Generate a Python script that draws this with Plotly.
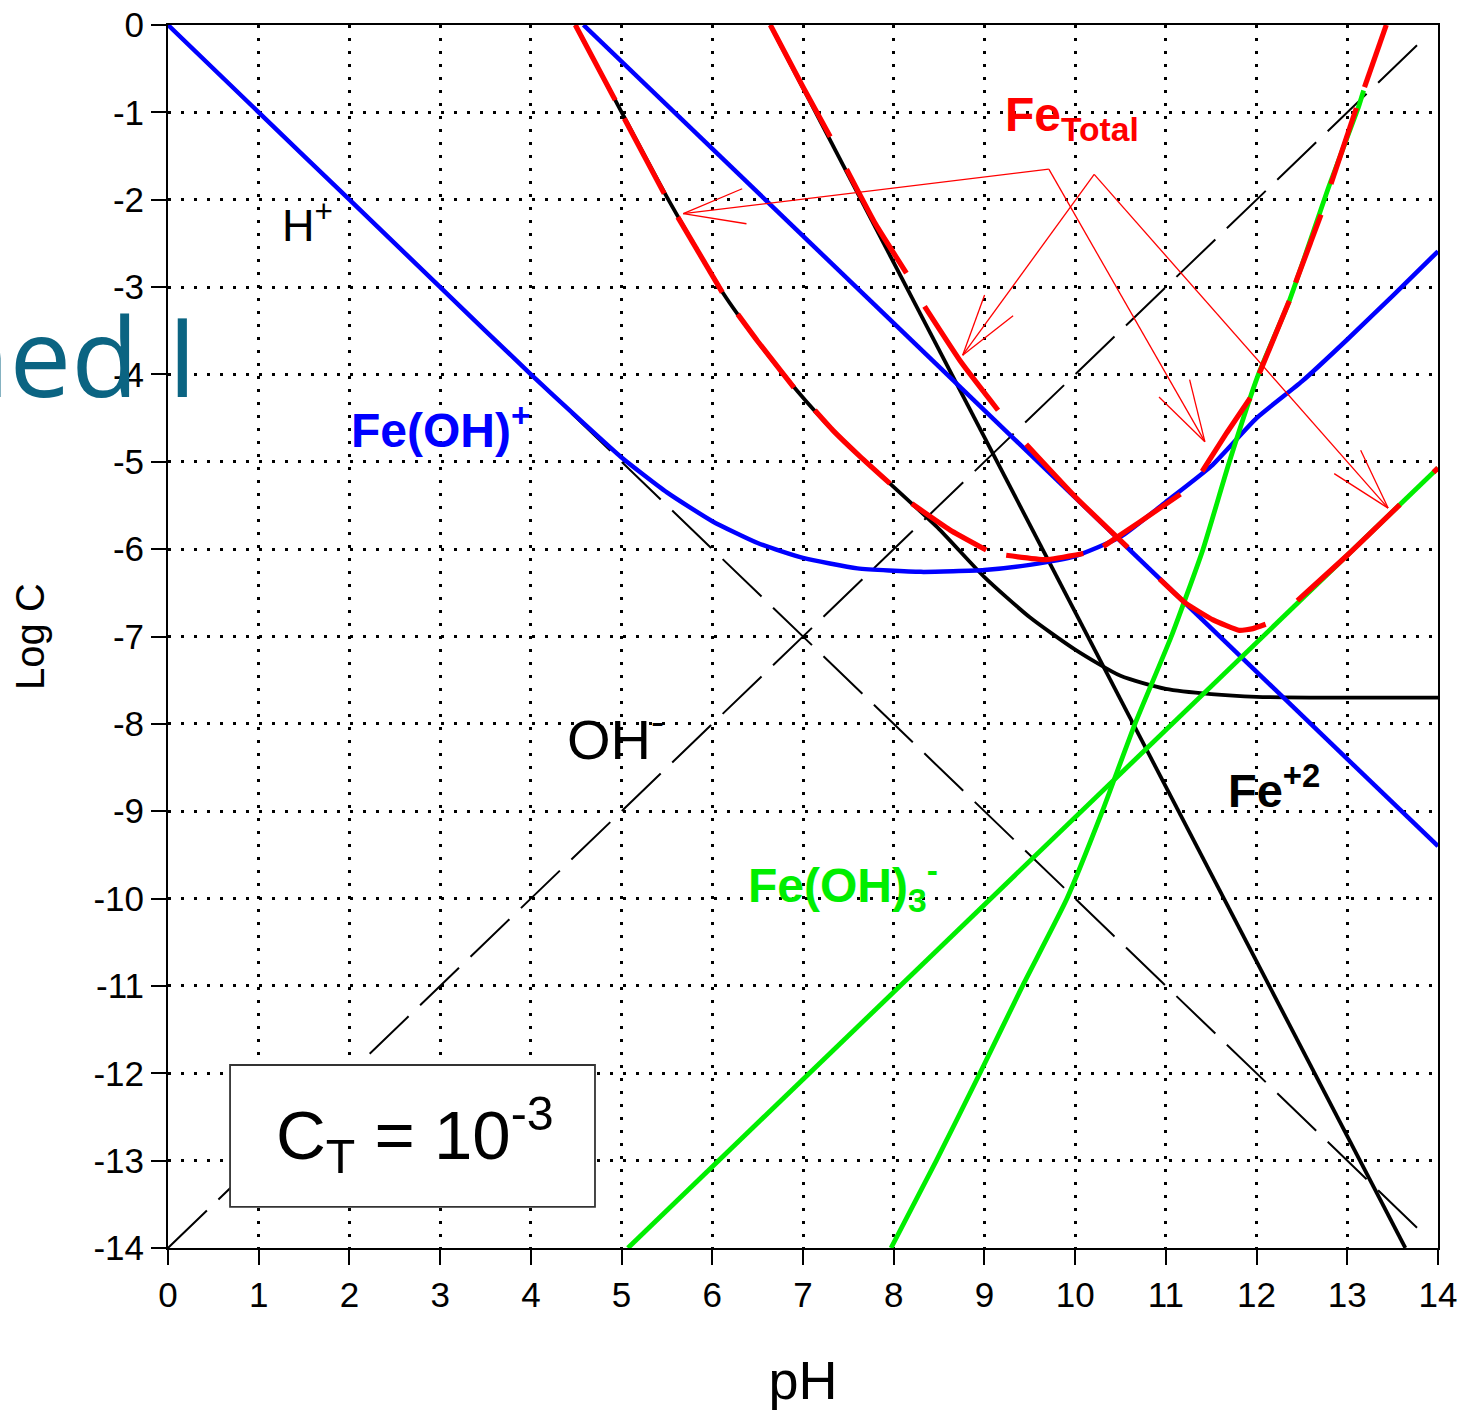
import math
import plotly.graph_objects as go

# ---------------- data ----------------
h_ph = [0, 13.86]
h_logc = [0, -13.86]

oh_ph = [0, 13.86]
oh_logc = [-14, -0.14]

black_curve_ph = [4.49, 4.93, 5.5, 6.12, 6.5, 6.93, 7.33, 7.63, 7.96, 8.5, 9.0, 9.5, 10.0,
                  10.5, 11.0, 11.5, 12.0, 13, 14]
black_curve_logc = [0, -0.86, -1.97, -3.07, -3.62, -4.18, -4.64, -4.94, -5.25, -5.77, -6.32,
                    -6.78, -7.15, -7.45, -7.6, -7.66, -7.69, -7.7, -7.7]

fe2_ph = [6.64, 13.64]
fe2_logc = [0, -14]

blue_curve_ph = [0, 1, 2, 3, 4, 4.5, 5, 5.5, 6, 6.5, 7, 7.6, 8.3, 9, 9.5, 10, 10.5, 11, 11.5,
                 12, 12.5, 13, 13.5, 14]
blue_curve_logc = [0, -1, -2, -3, -4, -4.48, -4.95, -5.35, -5.68, -5.93, -6.1, -6.22, -6.26,
                   -6.24, -6.18, -6.08, -5.86, -5.46, -5.05, -4.5, -4.08, -3.6, -3.1, -2.59]

feoh_line_ph = [4.58, 14]
feoh_line_logc = [0, -9.4]

feoh3_line_ph = [5.07, 14]
feoh3_line_logc = [-14, -5.07]

green_curve_ph = [7.97, 8.47, 8.95, 9.42, 9.91, 10.3, 10.66, 11.06, 11.41, 11.70, 12.02, 12.36,
                  12.8, 13.12, 13.18]
green_curve_logc = [-14, -13, -12, -11, -10, -9, -8, -7, -6, -5, -4, -3.16, -1.84, -0.95, -0.75]

# Fe total (first set), drawn in pieces (None = visible gap)
red1_ph = [4.49, 4.93, None,
           5.03, 5.47, None,
           5.62, 6.11, None,
           6.28, 6.5, 6.90, None,
           7.13, 7.33, 7.63, 7.96, None,
           8.2, 8.62, 9.02, None,
           9.24, 9.68, 10.09, None,
           10.31, 10.71, 11.16, None,
           11.40, 11.67, 11.93, None,
           12.03, 12.36, None,
           12.43, 12.71, None,
           12.82, 13.10, None,
           13.19, 13.43]
red1_logc = [0, -0.86, None,
             -1.07, -1.93, None,
             -2.2, -3.06, None,
             -3.31, -3.62, -4.15, None,
             -4.41, -4.64, -4.94, -5.25, None,
             -5.48, -5.78, -6.01, None,
             -6.07, -6.12, -6.05, None,
             -5.97, -5.69, -5.37, None,
             -5.11, -4.67, -4.27, None,
             -3.99, -3.16, None,
             -2.95, -2.17, None,
             -1.82, -0.95, None,
             -0.71, 0]

# Fe total (second set)
red2_ph = [6.64, 7.0, 7.30, None,
           7.48, 7.8, 8.14, None,
           8.34, 8.75, 9.15, None,
           9.46, 10.0, 10.58, None,
           10.93, 11.22, 11.52, 11.81, 11.96, 12.10, None,
           12.45, 13.0, 13.58, None,
           13.95, 14]
red2_logc = [0, -0.71, -1.28, None,
             -1.65, -2.28, -2.84, None,
             -3.22, -3.87, -4.41, None,
             -4.80, -5.40, -5.98, None,
             -6.34, -6.62, -6.81, -6.93, -6.91, -6.86, None,
             -6.59, -6.07, -5.49, None,
             -5.12, -5.07]

# arrows from the "Fe Total" label: tail and head points (pH, log C)
arrow_tail_ph = [9.71, 10.21, 9.71, 10.21]
arrow_tail_logc = [-1.65, -1.71, -1.65, -1.71]
arrow_head_ph = [5.68, 8.76, 11.43, 13.45]
arrow_head_logc = [-2.16, -3.78, -4.77, -5.53]

x_ticks = list(range(0, 15))
y_ticks = list(range(-14, 1))

# ---------------- figure ----------------
W, H = 1464, 1410
ML, MR, MT, MB = 168, 26, 25, 162
PW, PH_ = W - ML - MR, H - MT - MB
SX, SY = PW / 14.0, PH_ / 14.0

FONT = "Liberation Sans, Arial, Helvetica, sans-serif"

fig = go.Figure()

dash_black = "54px,16px"
fig.add_trace(go.Scatter(x=h_ph, y=h_logc, mode="lines",
                         line=dict(color="black", width=2, dash=dash_black)))
fig.add_trace(go.Scatter(x=oh_ph, y=oh_logc, mode="lines",
                         line=dict(color="black", width=2, dash=dash_black)))
fig.add_trace(go.Scatter(x=black_curve_ph, y=black_curve_logc, mode="lines",
                         line=dict(color="black", width=3.8, shape="spline", smoothing=0.6)))
fig.add_trace(go.Scatter(x=fe2_ph, y=fe2_logc, mode="lines",
                         line=dict(color="black", width=3.8)))
fig.add_trace(go.Scatter(x=blue_curve_ph, y=blue_curve_logc, mode="lines",
                         line=dict(color="#0000ff", width=4.5, shape="spline", smoothing=0.5)))
fig.add_trace(go.Scatter(x=feoh_line_ph, y=feoh_line_logc, mode="lines",
                         line=dict(color="#0000ff", width=4.5)))
fig.add_trace(go.Scatter(x=feoh3_line_ph, y=feoh3_line_logc, mode="lines",
                         line=dict(color="#00ee00", width=4.8)))
fig.add_trace(go.Scatter(x=green_curve_ph, y=green_curve_logc, mode="lines",
                         line=dict(color="#00ee00", width=4.8, shape="spline", smoothing=0.5)))
fig.add_trace(go.Scatter(x=red1_ph, y=red1_logc, mode="lines", connectgaps=False,
                         line=dict(color="#ff0000", width=5.2, shape="spline", smoothing=0.4)))
fig.add_trace(go.Scatter(x=red2_ph, y=red2_logc, mode="lines", connectgaps=False,
                         line=dict(color="#ff0000", width=5.2, shape="spline", smoothing=0.4)))

shapes = []
# arrows with open V heads
wing_len = 64.0
wing_ang = math.radians(16)
for tx, ty, hx, hy in zip(arrow_tail_ph, arrow_tail_logc, arrow_head_ph, arrow_head_logc):
    shapes.append(dict(type="line", xref="x", yref="y", x0=tx, y0=ty, x1=hx, y1=hy,
                       line=dict(color="#ff0000", width=1.3)))
    dx = (tx - hx) * SX
    dy = -(ty - hy) * SY
    n = math.hypot(dx, dy)
    ux, uy = dx / n, dy / n
    for s in (1, -1):
        a = s * wing_ang
        rx = ux * math.cos(a) - uy * math.sin(a)
        ry = ux * math.sin(a) + uy * math.cos(a)
        ex = hx + rx * wing_len / SX
        ey = hy - ry * wing_len / SY
        shapes.append(dict(type="line", xref="x", yref="y", x0=hx, y0=hy, x1=ex, y1=ey,
                           line=dict(color="#ff0000", width=1.3)))

# C_T box
shapes.append(dict(type="rect", xref="x", yref="y", x0=0.684, x1=4.707, y0=-13.53, y1=-11.905,
                   line=dict(color="#333333", width=1.8), fillcolor="white", layer="above"))

annotations = [
    dict(x=1.24, y=-2.26, xref="x", yref="y", xanchor="left", yanchor="middle",
         text="H<sup>+</sup>", showarrow=False,
         font=dict(family=FONT, size=45, color="black")),
    dict(x=2.0, y=-4.6, xref="x", yref="y", xanchor="left", yanchor="middle",
         text="<b>Fe(OH)<sup>+</sup></b>", showarrow=False,
         font=dict(family=FONT, size=48, color="#0000ff")),
    dict(x=4.38, y=-8.13, xref="x", yref="y", xanchor="left", yanchor="middle",
         text="OH<sup>-</sup>", showarrow=False,
         font=dict(family=FONT, size=56, color="black")),
    dict(x=11.66, y=-8.72, xref="x", yref="y", xanchor="left", yanchor="middle",
         text="<b>Fe<sup>+2</sup></b>", showarrow=False,
         font=dict(family=FONT, size=47, color="black")),
    dict(x=6.37, y=-9.85, xref="x", yref="y", xanchor="left", yanchor="middle",
         text="<b>Fe(OH)<sub>3</sub><sup>-</sup></b>", showarrow=False,
         font=dict(family=FONT, size=48, color="#00ee00")),
    dict(x=9.2, y=-1.07, xref="x", yref="y", xanchor="left", yanchor="middle",
         text="<b>Fe<sub>Total</sub></b>", showarrow=False,
         font=dict(family=FONT, size=48, color="#ff0000")),
    dict(x=2.72, y=-12.7, xref="x", yref="y", xanchor="center", yanchor="middle",
         text="C<sub>T</sub> = 10<sup>-3</sup>", showarrow=False,
         font=dict(family=FONT, size=69, color="black")),
    dict(x=(200 - ML) / PW, y=1 - (354 - MT) / PH_, xref="paper", yref="paper",
         xanchor="right", yanchor="middle", text="ned I", showarrow=False,
         font=dict(family="Open Sans, Noto Sans, sans-serif", size=110, color="#0b6482")),
]

axis_common = dict(
    showgrid=True, gridcolor="black", gridwidth=3.2, griddash="3px,10px",
    zeroline=False, showline=True, linecolor="black", linewidth=2, mirror=True,
    ticks="outside", ticklen=15, tickwidth=1.6, tickcolor="black",
    tickfont=dict(family=FONT, size=35, color="black"),
    automargin=False,
)

fig.update_layout(
    width=W, height=H,
    margin=dict(l=ML, r=MR, t=MT, b=MB, autoexpand=False),
    paper_bgcolor="white", plot_bgcolor="white",
    showlegend=False,
    xaxis=dict(range=[0, 14], tickvals=x_ticks, ticktext=[str(v) for v in x_ticks],
               title=dict(text="pH", font=dict(family=FONT, size=54, color="black"), standoff=50),
               **axis_common),
    yaxis=dict(range=[-14, 0], tickvals=y_ticks, ticktext=[str(v) for v in y_ticks],
               title=dict(text="Log C", font=dict(family=FONT, size=40, color="black"), standoff=36),
               **axis_common),
    shapes=shapes,
    annotations=annotations,
)

fig.write_html("out.html")
